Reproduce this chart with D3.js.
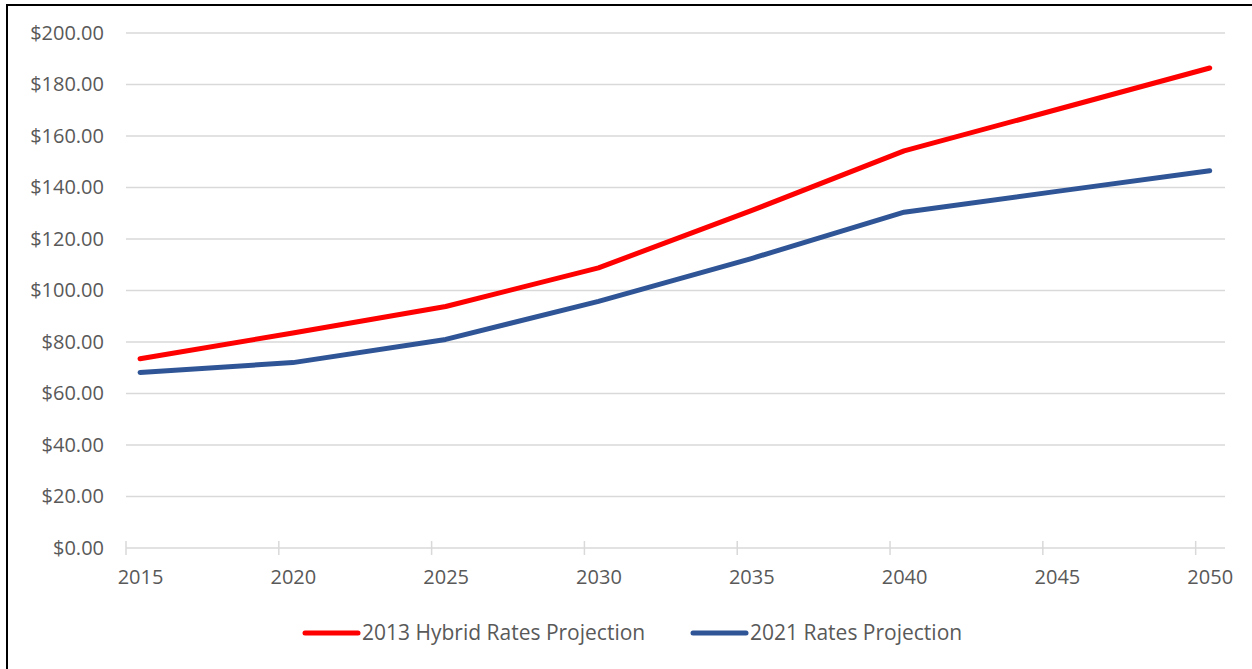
<!DOCTYPE html>
<html>
<head>
<meta charset="utf-8">
<script src="https://cdn.jsdelivr.net/npm/d3@7"></script>
<style>
  body { margin: 0; background: #fff; }
  text { font-family: "Open Sans", sans-serif; fill: #595959; }
</style>
</head>
<body>
<div id="chart"></div>
<script>
const width = 1252;
const height = 669;

// data
const years = [2015, 2020, 2025, 2030, 2035, 2040, 2045, 2050];
const hybrid2013 = [73.5, 83.5, 93.8, 108.8, 131.0, 154.2, 170.3, 186.4];
const rates2021 = [68.2, 72.0, 81.0, 95.8, 112.4, 130.4, 138.5, 146.5];
const yTicks = [0, 20, 40, 60, 80, 100, 120, 140, 160, 180, 200];
const seriesNames = ['2013 Hybrid Rates Projection', '2021 Rates Projection'];
const seriesColors = ['#ff0000', '#2f5597'];

const plot = {left: 126, right: 1225, top: 33, bottom: 548};

const svg = d3.select('#chart')
  .append('svg')
  .attr('width', width)
  .attr('height', height);

// frame round the figure
svg.append('rect')
  .attr('x', 7)
  .attr('y', 5)
  .attr('width', width + 20)
  .attr('height', height + 20)
  .attr('fill', 'none')
  .attr('stroke', '#000')
  .attr('stroke-width', 2);

// Excel date axis: points sit half a step in from the tick marks
const x = d3.scaleLinear()
  .domain([2014.54, 2050.5])
  .range([plot.left, plot.right]);

const y = d3.scaleLinear()
  .domain([0, 200])
  .range([plot.bottom, plot.top]);

// gridlines
svg.append('g')
  .selectAll('line')
  .data(yTicks)
  .enter().append('line')
  .attr('x1', plot.left)
  .attr('x2', plot.right)
  .attr('y1', d => y(d))
  .attr('y2', d => y(d))
  .attr('stroke', '#d9d9d9')
  .attr('stroke-width', 1.5);

// y axis labels
const yAxis = svg.append('g')
  .attr('transform', 'translate(' + 104 + ',0)')
  .call(d3.axisLeft(y).tickValues(yTicks).tickSize(0).tickPadding(0)
    .tickFormat(d => '$' + d3.format('.2f')(d)));
yAxis.select('.domain').remove();
yAxis.selectAll('text')
  .style('font-size', '20px')
  .attr('fill', '#595959');

// x tick marks (between categories)
svg.append('g')
  .selectAll('line')
  .data(years)
  .enter().append('line')
  .attr('x1', d => x(d - 0.46))
  .attr('x2', d => x(d - 0.46))
  .attr('y1', plot.bottom - 7)
  .attr('y2', plot.bottom + 7)
  .attr('stroke', '#d9d9d9')
  .attr('stroke-width', 1.5);

// x labels
const xAxis = svg.append('g')
  .attr('transform', 'translate(0,' + (plot.bottom + 22) + ')')
  .call(d3.axisBottom(x).tickValues(years).tickSize(0).tickPadding(0)
    .tickFormat(d3.format('d')));
xAxis.select('.domain').remove();
xAxis.selectAll('text')
  .style('font-size', '20px')
  .attr('fill', '#595959');

// lines
const line = d3.line()
  .x((d, i) => x(years[i]))
  .y(d => y(d));

[hybrid2013, rates2021].forEach(function(s, i) {
  svg.append('path')
    .datum(s)
    .attr('d', line)
    .attr('fill', 'none')
    .attr('stroke', seriesColors[i])
    .attr('stroke-width', 5)
    .attr('stroke-linecap', 'round')
    .attr('stroke-linejoin', 'round');
});

// legend
const legendX = [305, 693];
const legendY = 633;
const legend = svg.append('g')
  .selectAll('g')
  .data(seriesNames)
  .enter().append('g')
  .attr('transform', (d, i) => 'translate(' + legendX[i] + ',' + legendY + ')');

legend.append('line')
  .attr('x1', 0)
  .attr('x2', 53)
  .attr('stroke', (d, i) => seriesColors[i])
  .attr('stroke-width', 5)
  .attr('stroke-linecap', 'round');

legend.append('text')
  .attr('x', 57)
  .attr('dy', '0.35em')
  .style('font-size', '21px')
  .text(d => d);
</script>
</body>
</html>
